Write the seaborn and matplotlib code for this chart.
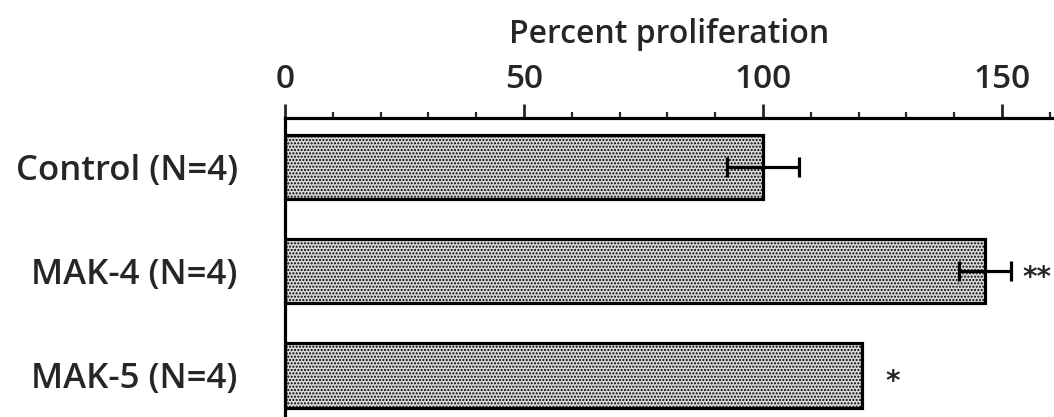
import numpy as np
import pandas as pd
import matplotlib
matplotlib.use("Agg")
import matplotlib.pyplot as plt
import seaborn as sns
from matplotlib.ticker import MultipleLocator

# datos
grupos = ["Control (N=4)", "MAK-4 (N=4)", "MAK-5 (N=4)"]
proliferacion = [100, 146.5, 120.8]
error = [7.5, 5.5, 0]
marcas = ["", "**", "*"]

df = pd.DataFrame({"grupo": grupos, "valor": proliferacion})

sns.set_style("white")
plt.rcParams["font.family"] = ["Open Sans", "DejaVu Sans"]
plt.rcParams["hatch.color"] = "#3a3a3a"
plt.rcParams["hatch.linewidth"] = 1.0

fig = plt.figure(figsize=(10.54, 4.17), dpi=100)
ax = fig.add_axes([0.2704, 0.0, 0.7296, 0.717])

sns.barplot(data=df, x="valor", y="grupo", orient="h", ax=ax, width=0.62,
            color="#d8d8d8", edgecolor="black", linewidth=2.3)
for p in ax.patches:
    p.set_hatch(".....")
    p.set_facecolor("#d8d8d8")

# barras de error
for i, (v, e) in enumerate(zip(proliferacion, error)):
    if e > 0:
        ax.errorbar(v, i, xerr=e, fmt="none", ecolor="black", elinewidth=2.3,
                    capsize=7, capthick=2.3)

# asteriscos
for i, (v, e, m) in enumerate(zip(proliferacion, error, marcas)):
    if m:
        dx = 2.3 if e > 0 else 4.8
        ax.annotate(m, xy=(v + e + dx, i), xytext=(0, -5),
                    textcoords="offset points", ha="left", va="center",
                    fontsize=20, fontweight="bold", family="DejaVu Sans")

ax.set_xlim(0, 160.9)
ax.set_ylim(2.40, -0.47)
ax.xaxis.tick_top()
ax.xaxis.set_label_position("top")
ax.xaxis.set_major_locator(MultipleLocator(50))
ax.xaxis.set_minor_locator(MultipleLocator(10))
ax.tick_params(axis="x", which="major", direction="out", length=10, width=2,
               labelsize=24, pad=6)
ax.tick_params(axis="x", which="minor", direction="out", length=4.5, width=1.6)
ax.tick_params(axis="y", length=0, labelsize=25, pad=34)
for t in ax.get_xticklabels() + ax.get_yticklabels():
    t.set_fontweight(600)
ax.set_xlabel("Percent proliferation", fontsize=23, labelpad=14,
              fontweight=600)
ax.set_ylabel("")

for s in ["right", "bottom"]:
    ax.spines[s].set_visible(False)
for s in ["top", "left"]:
    ax.spines[s].set_linewidth(2.3)
    ax.spines[s].set_color("black")

fig.savefig("out.png", dpi=100)
